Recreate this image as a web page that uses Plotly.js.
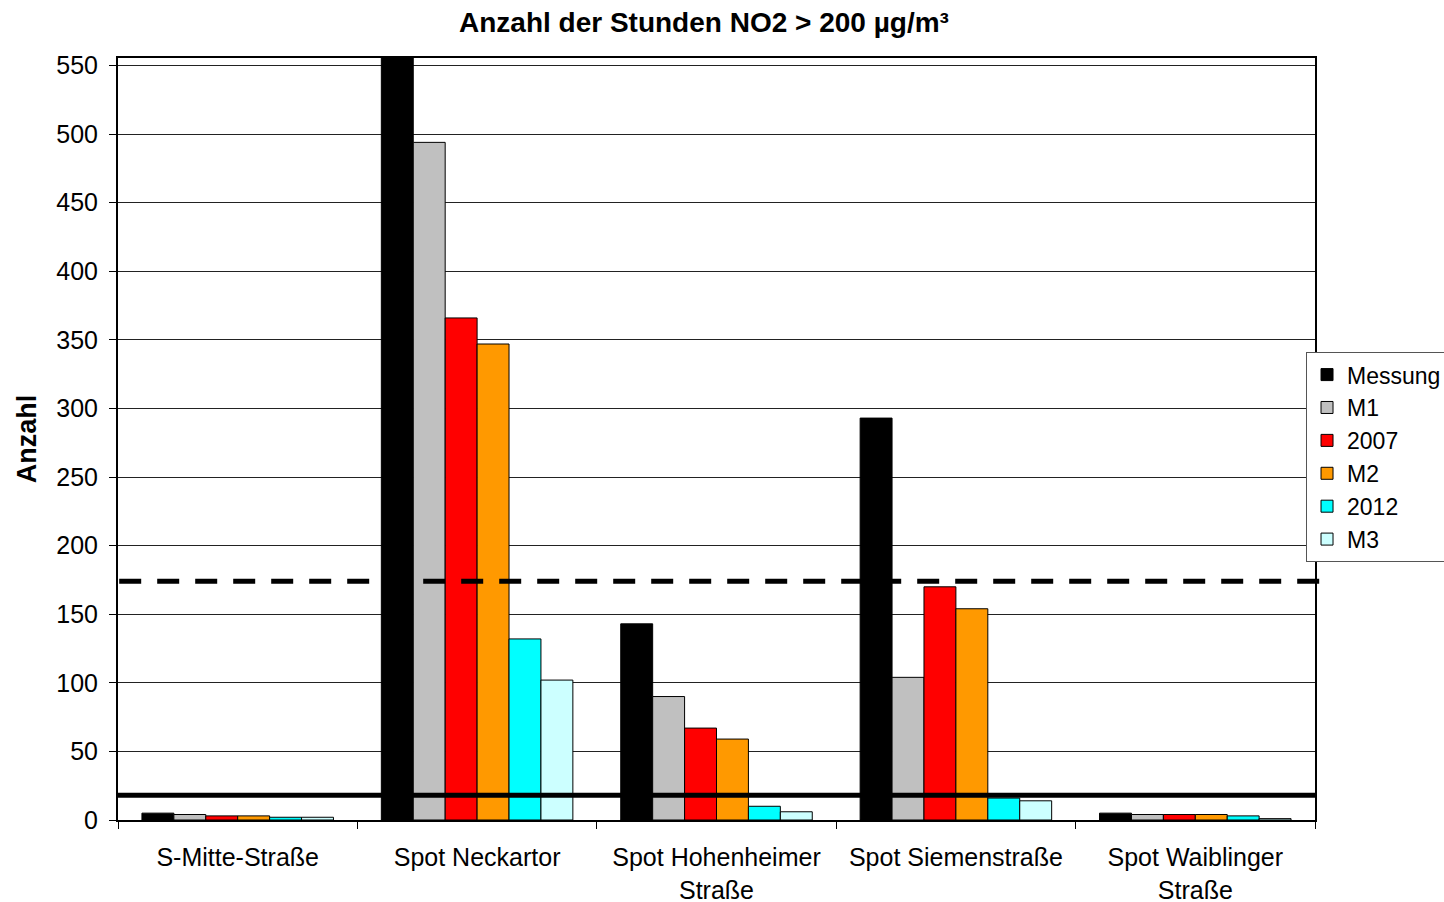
<!DOCTYPE html>
<html>
<head>
<meta charset="utf-8">
<script src="https://cdn.plot.ly/plotly-3.0.1.min.js"></script>
<style>
  html, body { margin: 0; padding: 0; background: #fff; }
  #chart { width: 1444px; height: 902px; }
</style>
</head>
<body>
<div id="chart"></div>
<script>
// Stations along the x axis
const categories = [
  "S-Mitte-Straße",
  "Spot Neckartor",
  "Spot Hohenheimer<br>Straße",
  "Spot Siemenstraße",
  "Spot Waiblinger<br>Straße"
];

// Hours with NO2 above 200 µg/m³ per station and scenario
const messung = [5, 600, 143, 293, 5];
const m1      = [4, 494, 90, 104, 4];
const y2007   = [3, 366, 67, 170, 4];
const m2      = [3, 347, 59, 154, 4];
const y2012   = [2, 132, 10, 16, 3];
const m3      = [2, 102, 6, 14, 1];

const seriesNames = ["Messung", "M1", "2007", "M2", "2012", "M3"];
const seriesColors = ["#000000", "#C0C0C0", "#FF0000", "#FF9900", "#00FFFF", "#CCFFFF"];

// Reference levels: permitted exceedances (solid) and the dashed level
const limitHours = 18;
const dashedLevel = 174;

const yTicks = [0, 50, 100, 150, 200, 250, 300, 350, 400, 450, 500, 550];

const seriesValues = [messung, m1, y2007, m2, y2012, m3];
const traces = seriesValues.map((vals, i) => ({
  type: "bar",
  name: seriesNames[i],
  x: categories,
  y: vals,
  marker: { color: seriesColors[i], line: { color: "#000", width: 1 } },
  hoverinfo: "x+y+name"
}));

const font = "Liberation Sans, Arial, sans-serif";

const layout = {
  width: 1444,
  height: 902,
  paper_bgcolor: "#fff",
  plot_bgcolor: "#fff",
  margin: { l: 118, r: 129, t: 58, b: 82, autoexpand: false },
  barmode: "group",
  bargap: 0.2,
  bargroupgap: 0,
  font: { family: font, size: 25, color: "#000" },
  title: {
    text: "<b>Anzahl der Stunden NO2 > 200 µg/m³</b>",
    font: { family: font, size: 28, color: "#000" },
    xref: "container", x: 0.4875, xanchor: "center",
    yref: "container", y: 1 - 22 / 902, yanchor: "middle"
  },
  xaxis: {
    type: "category",
    tickson: "boundaries",
    ticks: "outside",
    ticklen: 7,
    tickcolor: "#000",
    tickwidth: 1,
    ticklabelstandoff: 14,
    showline: true,
    linecolor: "#000",
    linewidth: 2,
    mirror: true,
    showgrid: false,
    tickfont: { family: font, size: 25, color: "#000" },
    automargin: false
  },
  yaxis: {
    range: [0, 555.5],
    tickvals: yTicks,
    ticktext: yTicks.map(String),
    ticks: "outside",
    ticklen: 7,
    tickcolor: "#000",
    ticklabelstandoff: 6,
    showline: true,
    linecolor: "#000",
    linewidth: 2,
    mirror: true,
    showgrid: true,
    gridcolor: "#222",
    gridwidth: 1,
    zeroline: false,
    tickfont: { family: font, size: 25, color: "#000" },
    title: {
      text: "<b>Anzahl</b>",
      font: { family: font, size: 27, color: "#000" },
      standoff: 12
    },
    automargin: false
  },
  legend: {
    x: 0.9925, xanchor: "left",
    y: 0.614, yanchor: "top",
    bgcolor: "#fff",
    bordercolor: "#555",
    borderwidth: 1,
    font: { family: font, size: 23, color: "#000" },
    tracegroupgap: 0,
    traceorder: "normal"
  },
  shapes: [
    {
      type: "line", xref: "paper", yref: "y",
      x0: 0, x1: 1, y0: limitHours, y1: limitHours,
      line: { color: "#000", width: 5 },
      layer: "above"
    },
    {
      type: "line", xref: "paper", yref: "y",
      x0: 0.001, x1: 1.004, y0: dashedLevel, y1: dashedLevel,
      line: { color: "#000", width: 5, dash: "22px,16px" },
      layer: "above"
    }
  ]
};

Plotly.newPlot("chart", traces, layout, { staticPlot: true, displayModeBar: false });
</script>
</body>
</html>
